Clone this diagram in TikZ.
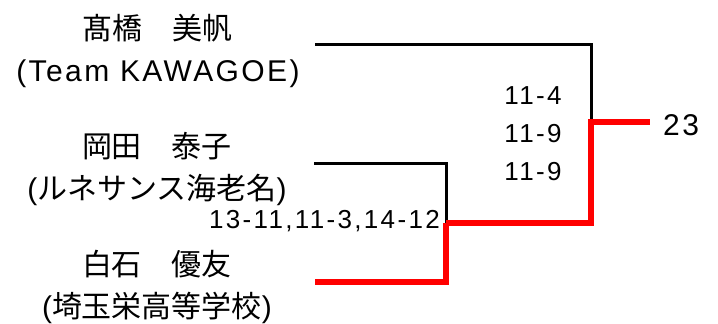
\documentclass[tikz,border=0pt]{standalone}
\usepackage{fontspec}
\setmainfont[LetterSpace=8]{Liberation Sans}
\newfontfamily\jp{Noto Sans CJK JP}
\newfontfamily\scorefont[LetterSpace=9]{Liberation Sans}
\usetikzlibrary{positioning}

\tikzset{
  player/.style={align=center, font=\fontsize{30}{42}\selectfont, inner sep=0pt},
  score/.style={font=\scorefont\fontsize{26}{38}\selectfont, inner sep=0pt},
  loser/.style={line width=3pt, black},
  winner/.style={line width=5.5pt, red},
}

\begin{document}
\begin{tikzpicture}[x=1pt, y=-1pt]
        \useasboundingbox (0,0) rectangle (718,324);
        % players
        \node[player] (p1) at (158,51) {{\jp 髙橋　美帆}\\(Team KAWAGOE)};
        \node[player] (p2) at (157,169) {{\jp 岡田　泰子}\\({\jp ルネサンス海老名})};
        \node[player] (p3) at (157,287) {{\jp 白石　優友}\\({\jp 埼玉栄高等学校})};
        % bracket ends
        \coordinate (a) at (315,44);
        \coordinate (b) at (314,163);
        \coordinate (c) at (315,282);
        \coordinate (m1) at (446,223);
        \coordinate (m2) at (591,122);
        \coordinate (w) at (650,122);
        \draw[loser] (b) -| (m1);
        \draw[loser] (a) -| (m2);
        \draw[winner] (c) -| (m1);
        \draw[winner, line join=miter] (m1) -| (m2) -- (w);
        % scores
        \node[score, anchor=east] (s1) at (440,221) {13-11,11-3,14-12};
        \node[score, align=center] (s2) at (533,134) {11-4\\11-9\\11-9};
        \node[font=\fontsize{30}{36}\selectfont, anchor=west, inner sep=0pt] (champ) at (663,125) {23};
\end{tikzpicture}
\end{document}
